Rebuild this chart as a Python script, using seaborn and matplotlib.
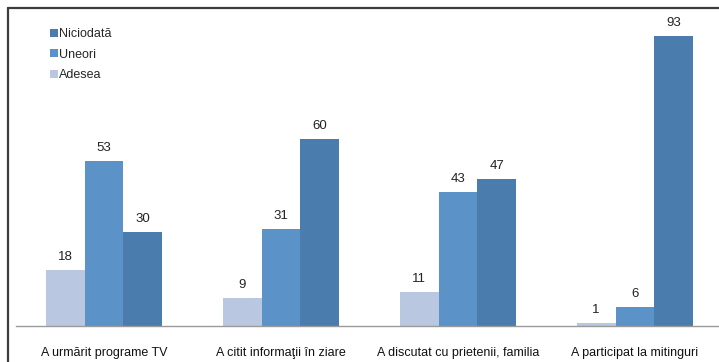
import matplotlib
matplotlib.use("Agg")
import matplotlib.pyplot as plt
from matplotlib.lines import Line2D
import seaborn as sns
import pandas as pd

categories = ["A urmărit programe TV", "A citit informaţii în ziare",
              "A discutat cu prietenii, familia", "A participat la mitinguri"]
adesea = [18, 9, 11, 1]
uneori = [53, 31, 43, 6]
niciodata = [30, 60, 47, 93]
series_names = ["Adesea", "Uneori", "Niciodată"]
colors = {"Adesea": "#b9c7e1", "Uneori": "#5b93c9", "Niciodată": "#4a7dae"}

df = pd.DataFrame({
    "categorie": categories * 3,
    "serie": ["Adesea"] * 4 + ["Uneori"] * 4 + ["Niciodată"] * 4,
    "valoare": adesea + uneori + niciodata,
})

sns.set_theme(style="white")
plt.rcParams["font.family"] = ["Liberation Sans", "DejaVu Sans"]

W, H = 719, 362
fig = plt.figure(figsize=(W / 100, H / 100), dpi=100)
left_px, right_px, base_px, top_px = 15.5, 719, 326, 14
ax = fig.add_axes([left_px / W, (H - base_px) / H,
                   (right_px - left_px) / W, (base_px - top_px) / H])

sns.barplot(data=df, x="categorie", y="valoare", hue="serie",
            hue_order=series_names, order=categories, palette=colors,
            width=0.66, gap=0, dodge=True, saturation=1, ax=ax,
            errorbar=None, legend=False, linewidth=0)

group_step = 177.0
ax.set_xlim(-0.5, -0.5 + (right_px - left_px) / group_step)
ax.set_ylim(0, 100)

for container in ax.containers:
    ax.bar_label(container, fmt="%d", padding=5, fontsize=9.5, color="#222222")

for s in ["top", "right", "left"]:
    ax.spines[s].set_visible(False)
ax.spines["bottom"].set_color("#9a9a9a")
ax.spines["bottom"].set_linewidth(1)
ax.set_yticks([])
ax.set_xlabel("")
ax.set_ylabel("")
ax.tick_params(axis="x", length=0, pad=15, labelsize=9, labelcolor="#111111")

# legend, listed from the darkest series down
handles = [Line2D([], [], marker="s", linestyle="none", markersize=6,
                  markerfacecolor=colors[n], markeredgewidth=0)
           for n in reversed(series_names)]
fig.legend(handles, list(reversed(series_names)), loc="upper left",
           bbox_to_anchor=(50 / W, 1 - 28 / H), frameon=False, fontsize=9,
           handlelength=0.6, handletextpad=0.15, labelspacing=0.7,
           borderpad=0, borderaxespad=0)

# frame lines along the left and top edges
fig.add_artist(Line2D([7.5 / W, 7.5 / W], [0, 1 - 7.5 / H], transform=fig.transFigure,
                      color="#3d3d3d", linewidth=1.6))
fig.add_artist(Line2D([7.5 / W, 1], [1 - 7.5 / H, 1 - 7.5 / H], transform=fig.transFigure,
                      color="#3d3d3d", linewidth=1.6))

fig.savefig("out.png", dpi=100)
